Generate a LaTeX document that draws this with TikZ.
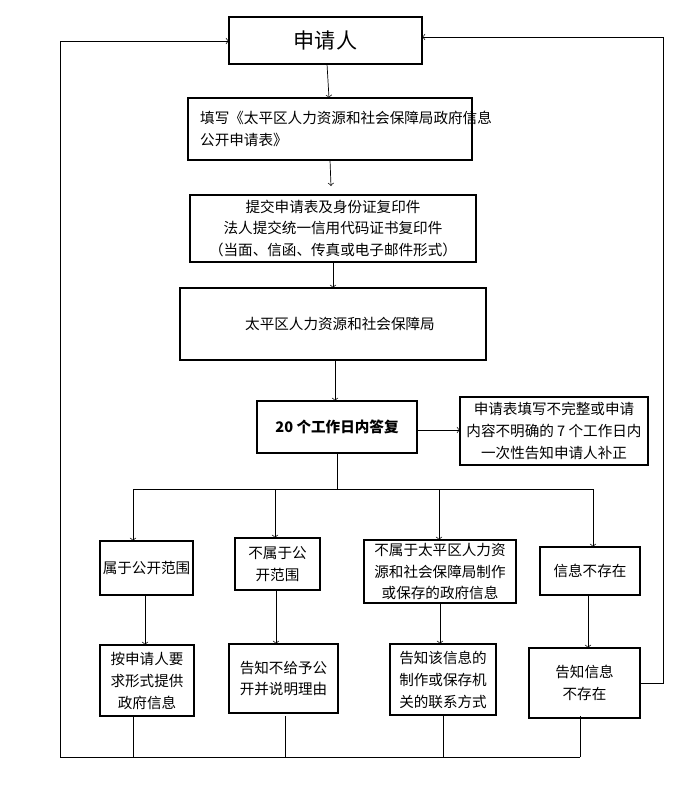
\documentclass[tikz,border=0pt]{standalone}
\usepackage{fontspec}
\newfontfamily\cjk{Noto Sans CJK SC}
\usetikzlibrary{calc,positioning}

\begin{document}
\begin{tikzpicture}[x=0.02cm,y=-0.02cm,font=\cjk\fontsize{8.3}{12.5}\selectfont,
  arr/.style={->,>=to}]
  \useasboundingbox (0,0) rectangle (694,812);
  % boxes
  \draw[thick] (229,17) rectangle (422,64);
  \node (sq) at (325.5,40.5) {\fontsize{12}{14}\selectfont 申请人};
  \draw[thick] (188,98) rectangle (472,160);
  \node[align=left,anchor=west] (tx) at (194,129) {填写《太平区人力资源和社会保障局政府信息\\公开申请表》};
  \draw[thick] (190,195) rectangle (476,262);
  \node[align=center] (tj) at (333,228.5) {提交申请表及身份证复印件\\法人提交统一信用代码证书复印件\\（当面、信函、传真或电子邮件形式）};
  \draw[thick] (180,288) rectangle (486,360);
  \node (jv) at (340,324) {太平区人力资源和社会保障局};
  \draw[thick] (257,401) rectangle (417,453);
  \node (df) at (337,427) {\bfseries 20 个工作日内答复};
  \draw[thick] (460,397) rectangle (648,465);
  \node[align=center] (bz) at (554,431) {申请表填写不完整或申请\\内容不明确的 7 个工作日内\\一次性告知申请人补正};
  % second row
  \draw[thick] (100,541) rectangle (193,595);
  \node (a1) at (146.5,568) {属于公开范围};
  \draw[thick] (235,538) rectangle (320,590);
  \node[align=center] (a2) at (277.5,564) {不属于公\\开范围};
  \draw[thick] (364,540) rectangle (516,603);
  \node[align=center] (a3) at (440,571.5) {不属于太平区人力资\\源和社会保障局制作\\或保存的政府信息};
  \draw[thick] (540,547) rectangle (640,595);
  \node (a4) at (590,571) {信息不存在};
  % third row
  \draw[thick] (100,645) rectangle (194,716);
  \node[align=center] (b1) at (147,680.5) {按申请人要\\求形式提供\\政府信息};
  \draw[thick] (229,644) rectangle (338,713);
  \node[align=center] (b2) at (283.5,678.5) {告知不给予公\\开并说明理由};
  \draw[thick] (390,644) rectangle (496,715);
  \node[align=center] (b3) at (443,679.5) {告知该信息的\\制作或保存机\\关的联系方式};
  \draw[thick] (529,648) rectangle (640,718);
  \node[align=center] (b4) at (584.5,683) {告知信息\\不存在};
  % connectors
  \draw[arr] (327,64) -- (329,98);
  \draw[arr] (330,160) -- (331,186);
  \draw[arr] (333,262) -- (333,288);
  \draw[arr] (335,360) -- (335,401);
  \draw[arr] (417,430) -- (460,430);
  \draw (337,453) -- (337,489);
  \draw (133,489) -- (593,489);
  \draw[arr] (133,489) -- (133,541);
  \draw[arr] (275,489) -- (275,538);
  \draw[arr] (439,489) -- (439,540);
  \draw[arr] (593,489) -- (593,547);
  \draw[arr] (145,595) -- (145,645);
  \draw[arr] (276,590) -- (276,644);
  \draw[arr] (440,603) -- (440,644);
  \draw[arr] (588,595) -- (588,648);
  % return
  \foreach \x in {133,285,443,580} \draw (\x,716) -- (\x,757);
  \draw[arr] (580,757) -- (60,757) -- (60,41) -- (229,41);
  \draw[arr] (640,683) -- (663,683) -- (663,37) -- (422,37);
\end{tikzpicture}
\end{document}
